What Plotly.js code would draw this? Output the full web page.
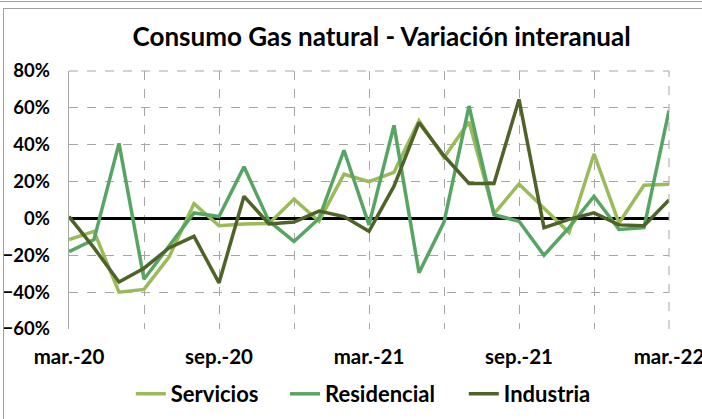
<!DOCTYPE html>
<html>
<head>
<meta charset="utf-8">
<script src="https://cdn.plot.ly/plotly-3.0.1.min.js"></script>
<style>
  html, body { margin: 0; padding: 0; background: #fff; }
  #wrap { position: relative; width: 702px; height: 419px; overflow: hidden; }
  #frame { position: absolute; left: 3px; top: 8px; width: 760px; height: 470px; border: 1.5px solid #a0a0a0; box-sizing: border-box; pointer-events: none; }
  #topline { position: absolute; left: 0; top: 1px; width: 702px; height: 0; border-top: 1.5px solid #a0a0a0; }
  #chart { position: absolute; left: 0; top: 0; width: 740px; height: 419px; }
</style>
</head>
<body>
<div id="wrap">
  <div id="chart"></div>
  <div id="topline"></div>
  <div id="frame"></div>
</div>
<script>
const months = ['mar.-20','abr.-20','may.-20','jun.-20','jul.-20','ago.-20','sep.-20','oct.-20','nov.-20','dic.-20','ene.-21','feb.-21',
                'mar.-21','abr.-21','may.-21','jun.-21','jul.-21','ago.-21','sep.-21','oct.-21','nov.-21','dic.-21','ene.-22','feb.-22','mar.-22'];
const tickLabels = ['mar.-20','sep.-20','mar.-21','sep.-21','mar.-22'];
const servicios   = [-11.5, -7, -40, -38.5, -21, 8, -4, -3, -2.7, 10.5, -1.5, 24, 20, 25, 53, 33, 52.4, 2.5, 18.7, 5.6, -7.7, 35, -2.5, 18, 18.5];
const residencial = [-18, -11.5, 40.7, -33, -15, 3, 1, 28, -1.5, -12.5, 0, 37, -3.5, 50.5, -29.5, -2, 61, 2, -1.5, -20, -5, 12, -6, -5, 58.5];
const industria   = [1, -16, -34.5, -27, -16, -9.7, -35, 12, -3, -2, 4, 1, -7, 17.5, 52, 34, 19, 19, 64.6, -5, -0.5, 3, -3.5, -4, 10];

const xs = months.map((m, i) => i);
const tickVals = tickLabels.map(t => months.indexOf(t));
const toFrac = arr => arr.map(v => v / 100);

const font = 'Lato, "Open Sans", sans-serif';
const mk = (name, y, color, leg) => ({
  type: 'scatter', mode: 'lines', name: name, x: xs, y: toFrac(y), legend: leg,
  line: { color: color, width: 3.5 }, hoverinfo: 'skip'
});

const data = [
  mk('Servicios', servicios, '#9BBB59', 'legend'),
  mk('Residencial', residencial, '#57A562', 'legend2'),
  mk('Industria', industria, '#4F6228', 'legend3')
];

const legFont = { family: font, size: 22, weight: 700, color: '#000' };
const leg = x => ({ orientation: 'h', x: x, xanchor: 'left', y: -0.252, yanchor: 'middle', font: legFont, bgcolor: 'rgba(0,0,0,0)' });

const layout = {
  width: 740, height: 419,
  margin: { l: 69, r: 71, t: 71, b: 90, autoexpand: false },
  paper_bgcolor: 'rgba(0,0,0,0)', plot_bgcolor: '#fff',
  font: { family: font, color: '#000', size: 16, weight: 700 },
  title: { text: '<b>Consumo Gas natural - Variación interanual</b>', font: { family: font, size: 26, color: '#000' }, xref: 'paper', x: 0.521, xanchor: 'center', y: 0.913, yanchor: 'middle' },
  showlegend: true,
  legend: leg(0.103),
  legend2: leg(0.36),
  legend3: leg(0.658),
  xaxis: {
    range: [0, months.length - 1], tickmode: 'array', tickvals: tickVals, ticktext: tickLabels,
    showgrid: true, gridcolor: '#a6a6a6', griddash: 'dash', gridwidth: 1,
    minor: { tickmode: 'linear', tick0: 0, dtick: 3, showgrid: true, gridcolor: '#a6a6a6', griddash: 'dash', gridwidth: 1 },
    showline: false, zeroline: false, ticks: '', ticklabelstandoff: 13,
    tickfont: { family: font, size: 20.5, weight: 700 }, fixedrange: true
  },
  yaxis: {
    range: [-0.6, 0.8], dtick: 0.2, tickformat: '.0%',
    showgrid: true, gridcolor: '#a6a6a6', griddash: 'dash', gridwidth: 1,
    zeroline: true, zerolinecolor: '#000', zerolinewidth: 3,
    showline: true, linecolor: '#a6a6a6', linewidth: 1.5, ticks: '', ticklabelstandoff: 14,
    tickfont: { family: font, size: 18.5, weight: 700 }, fixedrange: true
  },
  shapes: [
    { type: 'line', xref: 'paper', yref: 'paper', x0: 1, x1: 1, y0: 0, y1: 1, line: { color: '#a6a6a6', width: 1, dash: 'dash' } },
    { type: 'line', xref: 'paper', yref: 'paper', x0: 0, x1: 1, y0: 1, y1: 1, line: { color: '#a6a6a6', width: 1, dash: 'dash' } }
  ]
};

Plotly.newPlot('chart', data, layout, { staticPlot: true, displayModeBar: false });
</script>
</body>
</html>
